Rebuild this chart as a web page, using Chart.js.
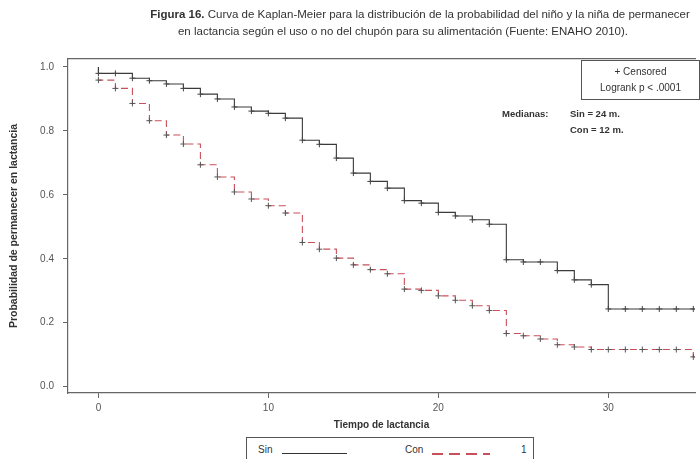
<!DOCTYPE html>
<html>
<head>
<meta charset="utf-8">
<script src="https://cdn.jsdelivr.net/npm/chart.js@4.4.1/dist/chart.umd.min.js"></script>
<style>
  body { margin: 0; width: 700px; height: 459px; overflow: hidden; background: #fff;
         font-family: "Liberation Sans", Arial, sans-serif; color: #333; }
  #wrap { position: absolute; left: 0; top: 0; width: 700px; height: 459px; }
  .txt { position: absolute; white-space: nowrap; }
  .titulo { left: 0; width: 840px; text-align: center; font-size: 11.5px; color: #333; }
  .caja { position: absolute; border: 1px solid #555; background: #fff; }
</style>
</head>
<body>
<div id="wrap"><canvas id="kmChart" width="700" height="459"></canvas></div>

<div class="txt titulo" style="top: 8px;"><b>Figura 16.</b> Curva de Kaplan-Meier para la distribución de la probabilidad del niño y la niña de permanecer</div>
<div class="txt titulo" style="top: 25px; width: 806px;">en lactancia según el uso o no del chupón para su alimentación (Fuente: ENAHO 2010).</div>

<div class="caja" style="left: 581px; top: 60px; width: 117px; height: 38px;">
  <div class="txt" style="left: 0; width: 117px; top: 5px; text-align: center; font-size: 10px;">+ Censored</div>
  <div class="txt" style="left: 0; width: 117px; top: 21px; text-align: center; font-size: 10px;">Logrank p &lt; .0001</div>
</div>
<div class="txt" style="left: 502px; top: 108px; font-size: 9.5px; font-weight: bold;">Medianas:</div>
<div class="txt" style="left: 570px; top: 108px; font-size: 9.5px; font-weight: bold;">Sin = 24 m.</div>
<div class="txt" style="left: 570px; top: 124px; font-size: 9.5px; font-weight: bold;">Con = 12 m.</div>

<div class="caja" style="left: 246px; top: 437px; width: 286px; height: 30px;">
  <div class="txt" style="left: 11px; top: 6px; font-size: 10px;">Sin</div>
  <div style="position: absolute; left: 35px; top: 15px; width: 65px; height: 1px; background: #333;"></div>
  <div class="txt" style="left: 158px; top: 6px; font-size: 10px;">Con</div>
  <div style="position: absolute; left: 185px; top: 15px; width: 58px; height: 1.5px;
       background: repeating-linear-gradient(to right, #c8505a 0 11px, transparent 11px 17px);"></div>
  <div class="txt" style="left: 274px; top: 6px; font-size: 10px;">1</div>
</div>

<script>
// Tiempo (meses) y probabilidad de seguir en lactancia, grupo "Sin" chupón
const tiempoSin = [0, 0, 1, 2, 3, 4, 5, 6, 7, 8, 9, 10, 11, 12, 13, 14, 15, 16, 17, 18,
  19, 20, 21, 22, 23, 24, 25, 26, 27, 28, 29, 30, 31, 32, 33, 34, 35, 36];
const probSin = [1.0, 0.98, 0.98, 0.965, 0.957, 0.947, 0.933, 0.915, 0.9, 0.875, 0.862,
  0.855, 0.84, 0.771, 0.758, 0.715, 0.668, 0.642, 0.621, 0.582, 0.574, 0.545, 0.534,
  0.522, 0.508, 0.397, 0.39, 0.39, 0.363, 0.334, 0.319, 0.243, 0.243, 0.243, 0.243,
  0.243, 0.243, 0.243];

// grupo "Con" chupón
const tiempoCon = [0, 0, 1, 2, 3, 4, 5, 6, 7, 8, 9, 10, 11, 12, 13, 14, 15, 16, 17, 18,
  19, 20, 21, 22, 23, 24, 25, 26, 27, 28, 29, 30, 31, 32, 33, 34, 35, 36];
const probCon = [1.0, 0.959, 0.933, 0.886, 0.832, 0.787, 0.759, 0.694, 0.656, 0.609,
  0.587, 0.566, 0.543, 0.451, 0.43, 0.402, 0.381, 0.366, 0.353, 0.305, 0.301, 0.284,
  0.27, 0.253, 0.238, 0.166, 0.159, 0.149, 0.131, 0.124, 0.116, 0.116, 0.116, 0.116,
  0.116, 0.116, 0.093, 0.093];

const xTicks = [0, 10, 20, 30];
const yTicks = [0, 0.2, 0.4, 0.6, 0.8, 1.0];

function toPoints(ts, ps) {
  return ts.map((t, i) => ({ x: t, y: ps[i] }));
}

// sin marca de censura en el punto inicial (t=0, p=1)
function censorRadius(ts) {
  return ts.map((t, i) => (i === 0 ? 0 : 3));
}

const axisColor = "#666";
const ctx = document.getElementById("kmChart").getContext("2d");

new Chart(ctx, {
  type: "line",
  data: {
    datasets: [
      {
        label: "Sin",
        data: toPoints(tiempoSin, probSin),
        borderColor: "#3a3a3a",
        borderWidth: 1.1,
        stepped: true,
        pointStyle: "cross",
        pointRadius: censorRadius(tiempoSin),
        pointBorderColor: "#444",
        pointBorderWidth: 1,
        fill: false,
      },
      {
        label: "Con",
        data: toPoints(tiempoCon, probCon),
        borderColor: "#c8505a",
        borderWidth: 1.1,
        borderDash: [7, 4],
        stepped: true,
        pointStyle: "cross",
        pointRadius: censorRadius(tiempoCon),
        pointBorderColor: "#555",
        pointBorderWidth: 1,
        fill: false,
      },
    ],
  },
  options: {
    responsive: false,
    animation: false,
    devicePixelRatio: 1,
    layout: { padding: { top: 59, left: 4, right: 0, bottom: 26 } },
    plugins: {
      legend: { display: false },
      tooltip: { enabled: false },
    },
    scales: {
      x: {
        type: "linear",
        position: "bottom",
        min: -1.79,
        max: 35.1,
        afterBuildTicks: (s) => { s.ticks = xTicks.map((v) => ({ value: v })); },
        afterFit: (s) => { s.height = 40; },
        ticks: { color: "#555", font: { size: 10 }, padding: 4 },
        grid: { drawOnChartArea: false, tickLength: 5, color: axisColor },
        border: { color: axisColor, width: 1.2 },
        title: {
          display: true,
          text: "Tiempo de lactancia",
          color: "#333",
          font: { size: 10, weight: "bold" },
          padding: { top: 2, bottom: 2 },
        },
      },
      x2: {
        type: "linear",
        position: "top",
        min: -1.79,
        max: 35.1,
        afterFit: (s) => { s.height = 0; },
        ticks: { display: false },
        grid: { drawOnChartArea: false, drawTicks: false },
        border: { color: axisColor, width: 1.2 },
      },
      y: {
        min: -0.02,
        max: 1.025,
        afterBuildTicks: (s) => { s.ticks = yTicks.map((v) => ({ value: v })); },
        afterFit: (s) => { s.width = 64; },
        ticks: {
          color: "#555",
          font: { size: 10 },
          padding: 9,
          callback: (v) => Number(v).toFixed(1),
        },
        grid: { drawOnChartArea: false, tickLength: 5, color: axisColor },
        border: { color: axisColor, width: 1.2 },
        title: {
          display: true,
          text: "Probabilidad de permanecer en lactancia",
          color: "#333",
          font: { size: 10.5, weight: "bold" },
          padding: { top: 4, bottom: 0 },
        },
      },
    },
  },
});
</script>
</body>
</html>
